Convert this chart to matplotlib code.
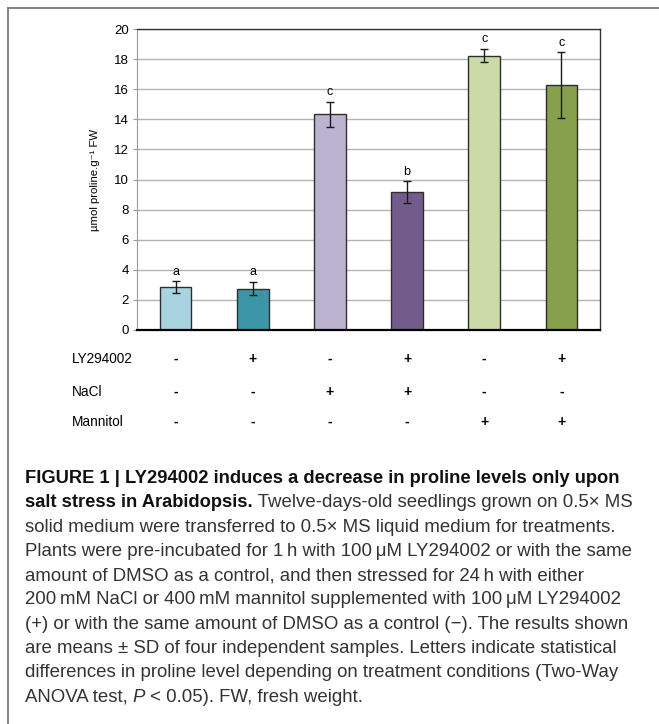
"""Proline content after LY294002 / NaCl / mannitol treatments, with caption."""

import matplotlib
matplotlib.use('Agg')
import matplotlib.pyplot as plt
from matplotlib import font_manager
from matplotlib.lines import Line2D
from matplotlib.transforms import blended_transform_factory
import numpy as np

# ── data ─────────────────────────────────────────────────────────────────────
proline   = [2.85, 2.75, 14.33, 9.15, 18.23, 16.26]   # µmol proline / g FW
sd        = [0.39, 0.45, 0.84, 0.72, 0.45, 2.19]
letters   = ['a', 'a', 'c', 'b', 'c', 'c']
bar_cols  = ['#a8d4e2', '#3b96a8', '#bcb3d1', '#735c8b', '#ccdaa8', '#86a04b']

row_names = ['LY294002', 'NaCl', 'Mannitol']
ly        = ['-', '+', '-', '+', '-', '+']
nacl      = ['-', '-', '+', '+', '-', '-']
mannitol  = ['-', '-', '-', '-', '+', '+']

caption = [
    [("FIGURE 1 | LY294002 induces a decrease in proline levels only upon", 'bold', 'normal')],
    [("salt stress in Arabidopsis.", 'bold', 'normal'),
     (" Twelve-days-old seedlings grown on 0.5\u00d7 MS", 'normal', 'normal')],
    [("solid medium were transferred to 0.5\u00d7 MS liquid medium for treatments.", 'normal', 'normal')],
    [("Plants were pre-incubated for 1\u2009h with 100\u2009\u03bcM LY294002 or with the same", 'normal', 'normal')],
    [("amount of DMSO as a control, and then stressed for 24\u2009h with either", 'normal', 'normal')],
    [("200\u2009mM NaCl or 400\u2009mM mannitol supplemented with 100\u2009\u03bcM LY294002", 'normal', 'normal')],
    [("(+) or with the same amount of DMSO as a control (\u2212). The results shown", 'normal', 'normal')],
    [("are means \u00b1 SD of four independent samples. Letters indicate statistical", 'normal', 'normal')],
    [("differences in proline level depending on treatment conditions (Two-Way", 'normal', 'normal')],
    [("ANOVA test, ", 'normal', 'normal'), ("P", 'normal', 'italic'),
     (" < 0.05). FW, fresh weight.", 'normal', 'normal')],
]

W, H = 659, 724
installed = {f.name for f in font_manager.fontManager.ttflist}
CHART_FONT = ['Liberation Sans', 'DejaVu Sans']
CAP_FONT = ['Liberation Sans Narrow' if 'Liberation Sans Narrow' in installed
            else 'Liberation Sans', 'DejaVu Sans']
plt.rcParams['font.family'] = CHART_FONT


def fx(px):
    return px / W


def fy(py):
    return 1 - py / H


fig = plt.figure(figsize=(W / 100, H / 100), dpi=100)
fig.patch.set_facecolor('white')
renderer = fig.canvas.get_renderer()

# outer frame (top and left edges only)
fig.add_artist(Line2D([fx(8), fx(659)], [fy(8), fy(8)], color='#7a7a7a', lw=1.3))
fig.add_artist(Line2D([fx(8), fx(8)], [fy(8), fy(724)], color='#7a7a7a', lw=1.3))

# ── bar chart ────────────────────────────────────────────────────────────────
ax = fig.add_axes([fx(137), fy(330), (600 - 137) / W, (330 - 29) / H])
x = np.arange(len(proline))
ax.bar(x, proline, width=0.41, color=bar_cols, edgecolor='#2e2e2e', lw=1.0, zorder=3)
ax.errorbar(x, proline, yerr=sd, fmt='none', ecolor='#1a1a1a', elinewidth=1.0,
            capsize=3, capthick=1.0, zorder=4)
for xi, v, e, lab in zip(x, proline, sd, letters):
    ax.annotate(lab, (xi, v + e), xytext=(0, 2.5), textcoords='offset points',
                ha='center', va='bottom', fontsize=9)

ax.set_xlim(-0.5, len(proline) - 0.5)
ax.set_ylim(0, 20)
ax.set_yticks(np.arange(0, 21, 2))
ax.set_xticks([])
ax.tick_params(axis='y', labelsize=9.5, length=3, color='#999999', pad=3)
ax.yaxis.grid(True, color='#b3b3b3', lw=1.0, zorder=0)
ax.set_axisbelow(True)
ax.spines['left'].set_color('#999999')
ax.spines['bottom'].set_color('black')
ax.spines['bottom'].set_linewidth(1.6)
ax.spines['bottom'].set_zorder(5)
for side in ('top', 'right'):
    ax.spines[side].set_color('#333333')
    ax.spines[side].set_linewidth(1.0)
ax.set_ylabel('\u00b5mol proline.g\u207b\u00b9 FW', fontsize=8.2, labelpad=10)

# ── treatment table under the bars ───────────────────────────────────────────
trans = blended_transform_factory(ax.transData, fig.transFigure)
for name, signs, row_y in zip(row_names, [ly, nacl, mannitol], [359, 392, 422]):
    fig.text(fx(72), fy(row_y), name, fontsize=9.8, ha='left', va='center')
    for xi, s in zip(x, signs):
        ax.text(xi, fy(row_y), s, transform=trans, fontsize=10, fontweight='bold',
                ha='center', va='center', clip_on=False)

# ── caption ──────────────────────────────────────────────────────────────────
def text_width(s, size, weight='normal', style='normal'):
    t = fig.text(0, 0, s + 'l', fontsize=size, fontweight=weight, fontstyle=style,
                 family=CAP_FONT)
    ref = fig.text(0, 0, 'l', fontsize=size, fontweight=weight, fontstyle=style,
                   family=CAP_FONT)
    w = t.get_window_extent(renderer).width - ref.get_window_extent(renderer).width
    t.remove()
    ref.remove()
    return w


# size regular and bold runs so the full lines span 25 → 617 px
reg_size = 12.0 * 592 / text_width(caption[2][0][0], 12.0)
bold_size = 12.0 * 592 / text_width(caption[0][0][0], 12.0, 'bold')

base0, step = 483, 24.3
for i, pieces in enumerate(caption):
    xpos = 25.0
    for txt, weight, style in pieces:
        size = bold_size if weight == 'bold' else reg_size
        fig.text(fx(xpos), fy(base0 + i * step), txt, fontsize=size,
                 fontweight=weight, fontstyle=style, family=CAP_FONT,
                 ha='left', va='baseline',
                 color='#111111' if weight == 'bold' else '#333333')
        xpos += text_width(txt, size, weight, style)

fig.savefig('out.png', dpi=100)
